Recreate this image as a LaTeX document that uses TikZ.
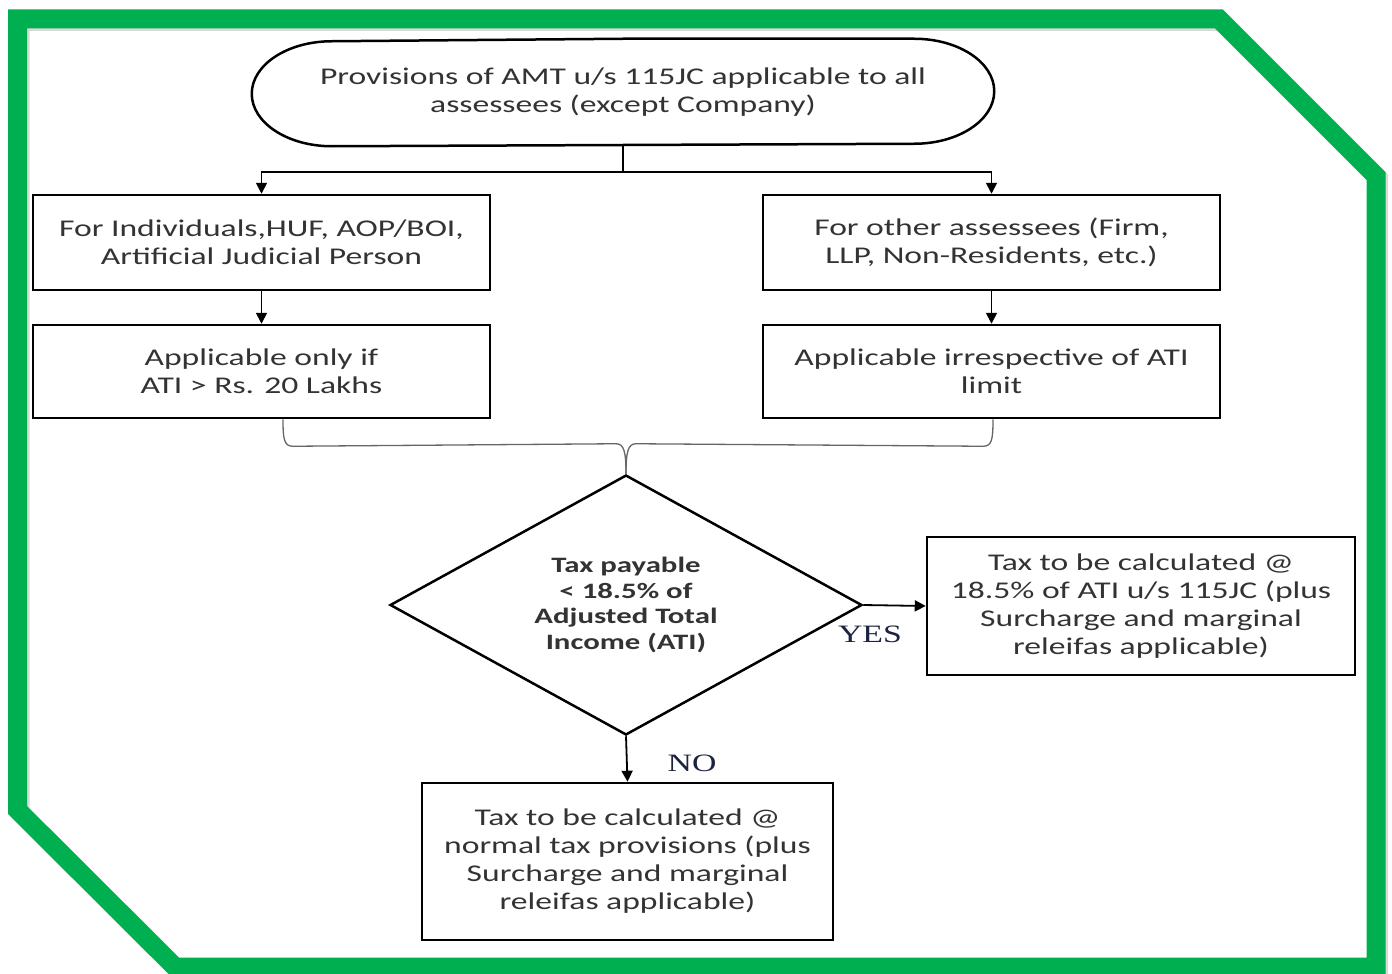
\documentclass[tikz,border=0pt]{standalone}
\usepackage{fontspec}
\usetikzlibrary{shapes.geometric,arrows.meta,calc}
\newfontfamily\bodyfont[FakeStretch=1.4]{Carlito}
\newfontfamily\labelfont[FakeStretch=1.35]{Liberation Serif}
\definecolor{framegreen}{HTML}{00B050}
\definecolor{ink}{HTML}{333333}
\definecolor{labink}{HTML}{1C2340}

\begin{document}
\begin{tikzpicture}[x=1pt,y=-1pt,
  box/.style={draw, line width=2.5pt, rectangle, align=center, inner sep=0pt,
    text=ink, font=\bodyfont\fontsize{24}{28}\selectfont},
  decision/.style={draw, line width=2.5pt, diamond, aspect=1.8, align=center, inner sep=0pt,
    text=ink, font=\bodyfont\bfseries\fontsize{22}{25.5}\selectfont},
  flow/.style={line width=1.8pt, -{Triangle[length=11pt,width=11pt]}},
  bracel/.style={line width=1.3pt, black!60},
  lab/.style={text=labink, font=\labelfont\fontsize{25}{28}\selectfont, inner sep=0pt},
  frame/.style={line width=19pt, line join=miter}
]
\useasboundingbox (0,0) rectangle (1392,974);
\fill[white] (0,0) rectangle (1392,974);

% green cut-corner frame with a soft shadow
\draw[frame, black, opacity=0.15, shift={(2.5,2.5)}]
  (17.5,19) -- (1219,19) -- (1376,176) -- (1376,967) -- (175,967) -- (17.5,810) -- cycle;
\draw[frame, framegreen]
  (17.5,19) -- (1219,19) -- (1376,176) -- (1376,967) -- (175,967) -- (17.5,810) -- cycle;

% start node (stadium with elliptic ends)
\node[box, draw=none, minimum width=740pt, minimum height=105pt] (top) at (623,92.5)
  {Provisions of AMT u/s 115JC applicable to all\\assessees (except Company)};
\draw[line width=2.5pt, line join=round] (top.north) -- ([xshift=-80pt]top.north east)
  arc[start angle=-90, end angle=90, x radius=80, y radius=52.5]
  -- ([xshift=80pt]top.south west)
  arc[start angle=90, end angle=270, x radius=80, y radius=52.5] -- cycle;

% assessee groups
\node[box, minimum width=457pt, minimum height=95pt] (l1) at (261.5,242.5)
  {For Individuals,HUF, AOP/BOI,\\Artificial Judicial Person};
\node[box, minimum width=457pt, minimum height=95pt] (r1) at (991.5,242.5)
  {For other assessees (Firm,\\LLP, Non-Residents, etc.)};
\node[box, minimum width=457pt, minimum height=93pt] (l2) at (261.5,371.5)
  {Applicable only if\\ATI > Rs. 20 Lakhs};
\node[box, minimum width=457pt, minimum height=93pt] (r2) at (991.5,371.5)
  {Applicable irrespective of ATI\\limit};

% decision and outcomes
\node[decision, minimum width=472pt, minimum height=260pt] (dia) at (626,605)
  {Tax payable\\< 18.5\% of\\Adjusted Total\\Income (ATI)};
\node[box, minimum width=428pt, minimum height=138pt] (yes) at (1141,606)
  {Tax to be calculated @\\18.5\% of ATI u/s 115JC (plus\\Surcharge and marginal\\releifas applicable)};
\node[box, minimum width=411pt, minimum height=157pt] (no) at (627.5,861.5)
  {Tax to be calculated @\\normal tax provisions (plus\\Surcharge and marginal\\releifas applicable)};

\node[lab] (yeslab) at (870,634) {YES};
\node[lab] (nolab) at (692,763) {NO};

% connectors
\draw[flow] (top.south) -- ++(0,26) -| (l1.north);
\draw[flow] (top.south) -- ++(0,26) -| (r1.north);
\draw[flow] (l1.south) -- (l2.north);
\draw[flow] (r1.south) -- (r2.north);
\draw[flow] (dia.east) -- (yes.west);
\draw[flow] (dia.south) -- (no.north);

% brace joining both groups into the decision
\coordinate (bl) at ($(l2.south)+(21.5,0)$);
\coordinate (br) at ($(r2.south)+(1.5,0)$);
\draw[bracel] (bl) .. controls ($(bl)+(0,20)$) and ($(bl)+(1,27)$) .. ($(bl)+(10,27)$)
  -- ($(dia.north)+(-10,-30)$)
  .. controls ($(dia.north)+(-2,-30)$) and ($(dia.north)+(0,-22)$) .. (dia.north);
\draw[bracel] (br) .. controls ($(br)+(0,20)$) and ($(br)+(-1,27)$) .. ($(br)+(-10,27)$)
  -- ($(dia.north)+(10,-30)$)
  .. controls ($(dia.north)+(2,-30)$) and ($(dia.north)+(0,-22)$) .. (dia.north);
\end{tikzpicture}
\end{document}
